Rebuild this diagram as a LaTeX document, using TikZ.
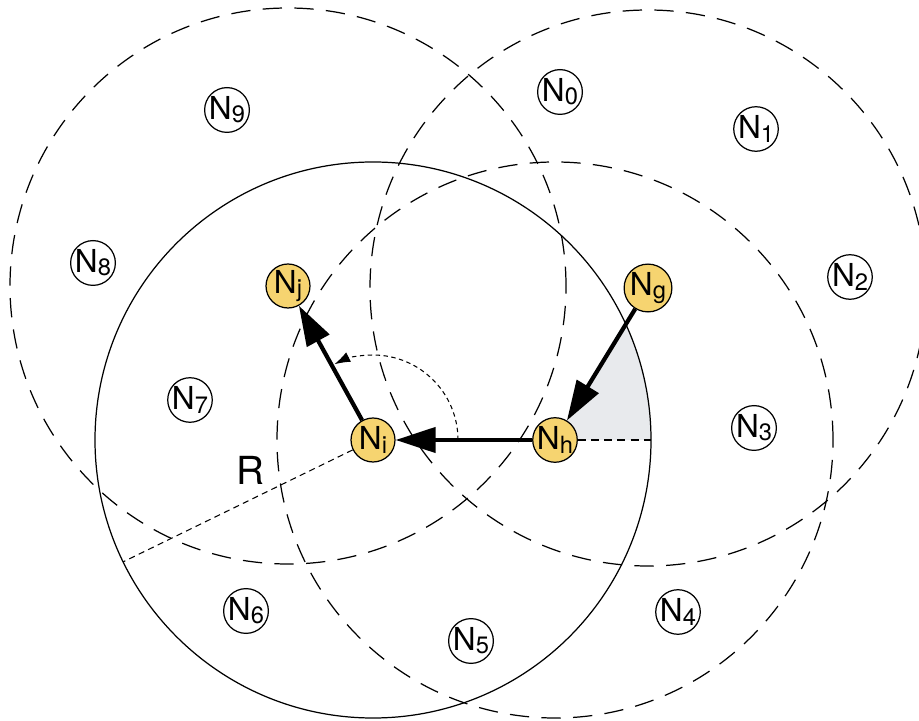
\documentclass[tikz,border=0pt]{standalone}
\usepackage{fontspec}
\setmainfont{TeX Gyre Heros}
\usetikzlibrary{arrows.meta,calc,backgrounds}
\definecolor{hopyellow}{RGB}{246,212,112}
\definecolor{sectorgray}{RGB}{232,234,237}
\newcommand{\Nsub}[1]{N\raisebox{-1.8pt}{\fontsize{13.5}{13.5}\selectfont #1}}
\begin{document}
\begin{tikzpicture}[x=0.02cm,y=0.02cm,
  nbr/.style={circle,draw,line width=0.7pt,fill=white,inner sep=0pt,minimum size=0.86cm,font=\fontsize{18}{18}\selectfont},
  hop/.style={circle,draw,line width=0.7pt,fill=hopyellow,inner sep=0pt,minimum size=0.88cm,font=\fontsize{18}{18}\selectfont},
  txrange/.style={line width=0.7pt,dash pattern=on 11pt off 7pt},
  fwd/.style={line width=2.4pt,-{Triangle[length=0.8cm,width=0.5cm]}}]
\useasboundingbox (0,0) rectangle (919,720);
\node[hop] (ni) at (373,280) {\Nsub{i}};
\node[hop] (nh) at (555,280) {\Nsub{h}};
\node[hop] (ng) at (648,432) {\Nsub{g}};
\node[hop] (nj) at (288,434) {\Nsub{j}};
\node[nbr] (n0) at (560,628) {\Nsub{0}};
\node[nbr] (n1) at (756,591) {\Nsub{1}};
\node[nbr] (n2) at (850,443) {\Nsub{2}};
\node[nbr] (n3) at (754,292) {\Nsub{3}};
\node[nbr] (n4) at (678,108) {\Nsub{4}};
\node[nbr] (n5) at (471,79) {\Nsub{5}};
\node[nbr] (n6) at (246,109) {\Nsub{6}};
\node[nbr] (n7) at (190,320) {\Nsub{7}};
\node[nbr] (n8) at (93,457) {\Nsub{8}};
\node[nbr] (n9) at (227,610) {\Nsub{9}};
\coordinate (redge) at ($(ni.center)+(0:278)$);
\coordinate (rend) at ($(ni.center)+(206:278)$);
\node[font=\fontsize{22}{22}\selectfont] (rlab) at (250,250) {R};
\begin{scope}[on background layer]
\fill[sectorgray] (nh.center) -- ($(nh.center)!0.761!(ng.center)$) arc[start angle=24.6,end angle=0,radius=278] -- cycle;
\end{scope}
\draw[line width=0.7pt] (ni.center) circle (278);
\draw[txrange] (nj.center) circle (278);
\draw[txrange] (ng.center) circle (278);
\draw[txrange] (nh.center) circle (278);
\draw[line width=1.4pt,dash pattern=on 4.5pt off 3pt] (nh) -- (redge);
\draw[line width=0.6pt,dash pattern=on 3.5pt off 2.5pt] (ni) -- (rend);
\draw[line width=0.6pt,dash pattern=on 2.5pt off 2pt,-{Latex[length=9pt,width=6pt]}] ($(ni.center)+(0:85)$) arc[start angle=0,end angle=117,radius=85];
\draw[fwd] (ng) -- (nh);
\draw[fwd] (nh) -- (ni);
\draw[fwd] (ni) -- (nj);
\end{tikzpicture}
\end{document}
